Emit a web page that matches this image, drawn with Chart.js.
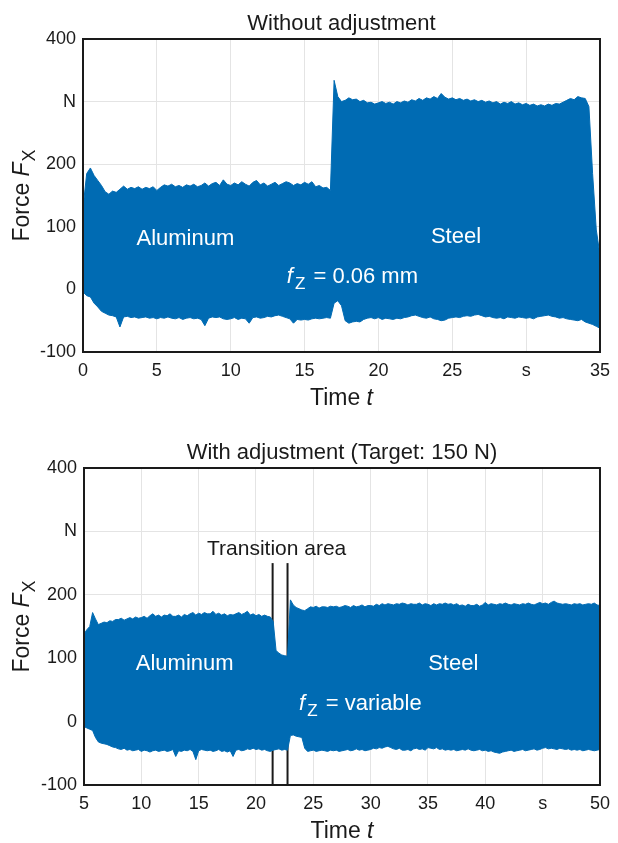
<!DOCTYPE html>
<html><head><meta charset="utf-8">
<script src="https://cdn.jsdelivr.net/npm/chart.js@4"></script>
<style>
body{margin:0;background:#fff;width:618px;height:843px;overflow:hidden;position:relative}
#w1{position:absolute;left:0;top:0;width:618px;height:420px}
#w2{position:absolute;left:0;top:420px;width:618px;height:423px}
</style></head><body>
<div id="w1"><canvas id="c1" width="618" height="420"></canvas></div>
<div id="w2"><canvas id="c2" width="618" height="423"></canvas></div>
<script>
// ---------- DATA ----------
// Top chart: sampled every 0.25 s from t = 0 s (each row = 1 s)
const topStart = 0;
const sampleStep = 0.25;
const topUpper = [
  130,185,194,182, 174,166,156,152, 157,155,160,165, 160,163,161,164,
  160,163,161,164, 158,163,167,165, 168,164,166,163, 167,165,168,164,
  166,170,165,169, 171,166,175,168, 166,170,167,172, 168,165,171,174,
  167,170,165,168, 171,166,169,172, 170,166,169,167, 171,168,172,164,
  166,162,163,158, 334,308,300,302, 306,303,304,300, 302,298,299,296,
  298,300,297,299, 296,300,298,301, 299,303,301,305, 302,306,304,308,
  305,313,307,304, 306,303,305,302, 304,301,303,300, 302,299,301,298,
  300,296,299,297, 300,296,298,295, 297,294,296,293, 295,293,296,294,
  297,296,299,302, 305,303,308,306, 305,292,185,95, 55
];
const topLower = [
  -4,-10,-12,-22, -28,-35,-38,-41, -42,-44,-60,-44, -43,-45,-44,-46,
  -45,-44,-46,-45, -47,-45,-46,-44, -46,-47,-45,-48, -46,-45,-47,-46,
  -48,-58,-46,-44, -45,-44,-47,-48, -47,-45,-48,-46, -47,-54,-45,-44,
  -46,-45,-43,-44, -42,-41,-43,-45, -47,-54,-48,-49, -48,-49,-47,-46,
  -47,-46,-45,-46, -22,-18,-26,-50, -54,-52,-51,-52, -48,-46,-45,-47,
  -45,-48,-46,-47, -48,-46,-47,-45, -44,-42,-41,-43, -45,-46,-44,-47,
  -48,-50,-49,-46, -45,-44,-45,-43, -42,-43,-41,-40, -42,-44,-43,-45,
  -46,-45,-47,-44, -45,-46,-44,-45, -46,-45,-47,-44, -43,-42,-41,-43,
  -44,-46,-45,-47, -48,-49,-50,-48, -52,-54,-56,-59, -62
];
// Bottom chart: sampled every 0.25 s from t = 5 s (each row = 1 s)
const bottomStart = 5;
const bottomUpper = [
  138,145,150,172, 162,153,155,157, 156,159,158,161, 161,163,160,162,
  164,162,165,163, 164,166,163,167, 170,166,168,165, 168,167,170,166,
  166,168,165,169, 167,170,172,168, 171,169,172,170, 170,174,169,171,
  168,170,167,169, 168,170,172,169, 171,174,168,170, 167,169,166,168,
  166,165,158,112, 108,105,104,103, 192,184,180,178, 176,175,178,181,
  180,182,179,181, 181,180,182,181, 182,180,181,183, 182,180,183,181,
  182,184,181,183, 183,182,185,183, 186,184,186,185, 184,186,185,187,
  186,184,186,185, 185,187,184,186, 185,183,186,184, 186,185,187,185,
  186,184,186,183, 184,182,185,183, 183,185,182,184, 188,184,186,185,
  184,186,185,187, 185,184,186,185, 184,186,185,187, 185,184,186,188,
  186,187,185,188, 190,187,186,185, 186,185,184,186, 185,186,184,185,
  186,185,187,184, 183
];
const bottomLower = [
  -8,-10,-12,-14, -25,-32,-34,-35, -36,-38,-40,-41, -43,-44,-42,-45,
  -44,-46,-45,-44, -47,-45,-46,-48, -46,-45,-47,-46, -45,-47,-46,-44,
  -55,-46,-47,-45, -46,-44,-47,-60, -46,-44,-45,-46, -45,-47,-46,-44,
  -47,-46,-48,-46, -55,-45,-44,-46, -45,-43,-44,-42, -44,-43,-45,-44,
  -46,-47,-45,-44, -43,-45,-44,-45, -22,-21,-23,-24, -25,-42,-47,-46,
  -45,-47,-46,-45, -46,-47,-45,-46, -45,-47,-46,-45, -44,-46,-45,-43,
  -45,-44,-46,-45, -44,-42,-43,-41, -42,-40,-39,-41, -43,-44,-42,-45,
  -45,-44,-46,-43, -42,-44,-43,-45, -41,-42,-43,-41, -44,-43,-45,-44,
  -45,-44,-46,-45, -44,-45,-43,-45, -46,-45,-44,-46, -45,-47,-46,-48,
  -49,-50,-48,-47, -46,-45,-47,-46, -45,-44,-46,-45, -44,-43,-45,-44,
  -42,-41,-43,-42, -43,-44,-42,-43, -44,-43,-45,-44, -45,-44,-46,-45,
  -44,-45,-46,-45, -44
];
// Transition area markers (bottom chart)
const transitionTimes = [21.45, 22.75];
const transitionTop = 250;
// Axis ranges / tick labels
const yMin = -100, yMax = 400, yStep = 100;
const yUnitTick = 300, yUnitLabel = 'N';
const topXMin = 0, topXMax = 35, topUnitTick = 30;
const bottomXMin = 5, bottomXMax = 50, bottomUnitTick = 45;
const xStep = 5, xUnitLabel = 's';
const topTitle = 'Without adjustment';
const bottomTitle = 'With adjustment (Target: 150 N)';

// ---------- STYLE ----------
const FONT = "'Liberation Sans', Arial, sans-serif";
const BLUE = '#006bb3';
const INK = '#1a1a1a';

function toPoints(arr, start) { return arr.map((v, i) => ({x: start + i * sampleStep, y: v})); }

function fontStr(size, italic) { return (italic ? 'italic ' : '') + size + 'px ' + FONT; }
function subSize(size) { return Math.round(size * 0.78); }
function partsWidth(ctx, parts, size) {
  let w = 0;
  for (const p of parts) { ctx.font = fontStr(p.sub ? subSize(size) : size, p.i); w += ctx.measureText(p.t).width + (p.gap || 0); }
  return w;
}
function drawRich(ctx, parts, x, y, size, color, align) {
  ctx.save();
  ctx.fillStyle = color; ctx.textBaseline = 'alphabetic'; ctx.textAlign = 'left';
  const w = partsWidth(ctx, parts, size);
  let cx = align === 'center' ? x - w / 2 : x;
  for (const p of parts) {
    const s = p.sub ? subSize(size) : size;
    ctx.font = fontStr(s, p.i);
    ctx.fillText(p.t, cx, y + (p.sub ? size * 0.28 : 0));
    cx += ctx.measureText(p.t).width + (p.gap || 0);
  }
  ctx.restore();
}

function makeChart(canvasId, o) {
  const annot = {
    id: 'annot',
    afterDatasetsDraw(chart) {
      const ctx = chart.ctx, xs = chart.scales.x, ys = chart.scales.y;
      for (const t of o.texts) {
        drawRich(ctx, t.parts, xs.getPixelForValue(t.x), ys.getPixelForValue(t.y), t.size, t.color, t.align);
      }
    },
    afterDraw(chart) {
      const ctx = chart.ctx, a = chart.chartArea;
      ctx.save();
      ctx.strokeStyle = INK; ctx.lineWidth = 2;
      ctx.strokeRect(a.left, a.top, a.right - a.left, a.bottom - a.top);
      ctx.restore();
      const cx = (a.left + a.right) / 2;
      drawRich(ctx, [{t: o.title}], cx, a.top - 9, 22, INK, 'center');
      drawRich(ctx, [{t: 'Time '}, {t: 't', i: true}], cx, a.bottom + 53, 23, INK, 'center');
      ctx.save();
      ctx.translate(29, (a.top + a.bottom) / 2);
      ctx.rotate(-Math.PI / 2);
      drawRich(ctx, [{t: 'Force '}, {t: 'F', i: true, gap: 1}, {t: 'X', sub: true}], 0, 0, 23, INK, 'center');
      ctx.restore();
    }
  };
  const datasets = [
    {data: toPoints(o.upper, o.start), borderColor: BLUE, backgroundColor: BLUE, borderWidth: 1, fill: '+1', pointRadius: 0, tension: 0},
    {data: toPoints(o.lower, o.start), borderColor: BLUE, backgroundColor: BLUE, borderWidth: 1, fill: false, pointRadius: 0, tension: 0}
  ];
  for (const tt of (o.markers || [])) {
    datasets.push({data: [{x: tt, y: yMin}, {x: tt, y: transitionTop}], borderColor: INK, borderWidth: 2, fill: false, pointRadius: 0});
  }
  return new Chart(document.getElementById(canvasId), {
    type: 'line',
    data: {datasets},
    options: {
      responsive: false, animation: false, devicePixelRatio: 1,
      layout: {autoPadding: false, padding: {top: o.padTop, right: o.padRight, left: 0, bottom: 0}},
      plugins: {legend: {display: false}, tooltip: {enabled: false}, title: {display: false}},
      scales: {
        x: {
          type: 'linear', min: o.xMin, max: o.xMax,
          ticks: {stepSize: xStep, autoSkip: false, maxRotation: 0, padding: 8, color: INK,
            font: {family: FONT, size: 18}, callback: v => v === o.unitTick ? xUnitLabel : String(v)},
          grid: {color: '#e4e4e4', lineWidth: 1, drawTicks: false}, border: {display: false},
          afterFit: s => { s.height = o.xH; }
        },
        y: {
          min: yMin, max: yMax,
          ticks: {stepSize: yStep, padding: 7, color: INK, font: {family: FONT, size: 18},
            callback: v => v === yUnitTick ? yUnitLabel : String(v)},
          grid: {color: '#e4e4e4', lineWidth: 1, drawTicks: false}, border: {display: false},
          afterFit: s => { s.width = o.yW; }
        }
      }
    },
    plugins: [annot]
  });
}

makeChart('c1', {
  upper: topUpper, lower: topLower, start: topStart,
  xMin: topXMin, xMax: topXMax, unitTick: topUnitTick, title: topTitle,
  padTop: 39, padRight: 15, xH: 68, yW: 83,
  texts: [
    {parts: [{t: 'Aluminum'}], x: 6.93, y: 71, size: 22, color: '#fff', align: 'center'},
    {parts: [{t: 'Steel'}], x: 25.25, y: 74, size: 22, color: '#fff', align: 'center'},
    {parts: [{t: 'f', i: true, gap: 2}, {t: 'Z', sub: true, gap: 2}, {t: ' = 0.06 mm'}], x: 13.8, y: 10, size: 22, color: '#fff', align: 'left'}
  ]
});
makeChart('c2', {
  upper: bottomUpper, lower: bottomLower, start: bottomStart,
  xMin: bottomXMin, xMax: bottomXMax, unitTick: bottomUnitTick, title: bottomTitle,
  padTop: 48, padRight: 11, xH: 58, yW: 84,
  markers: transitionTimes,
  texts: [
    {parts: [{t: 'Aluminum'}], x: 13.78, y: 81, size: 22, color: '#fff', align: 'center'},
    {parts: [{t: 'Steel'}], x: 37.2, y: 81, size: 22, color: '#fff', align: 'center'},
    {parts: [{t: 'f', i: true, gap: 2}, {t: 'Z', sub: true, gap: 2}, {t: ' = variable'}], x: 23.76, y: 18, size: 22, color: '#fff', align: 'left'},
    {parts: [{t: 'Transition area'}], x: 21.8, y: 263, size: 21, color: INK, align: 'center'}
  ]
});
</script>
</body></html>
